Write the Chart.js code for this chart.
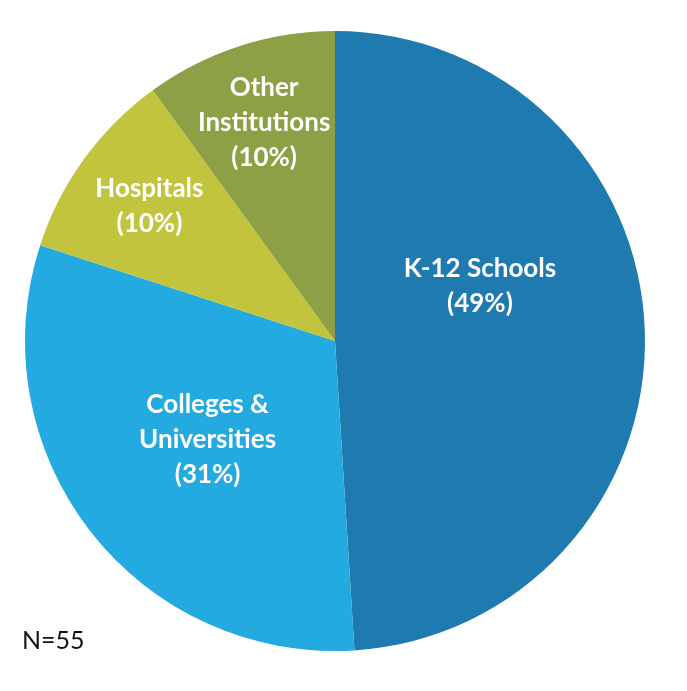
<!DOCTYPE html>
<html><head><meta charset="utf-8">
<script src="https://cdn.jsdelivr.net/npm/chart.js@4"></script>
<style>html,body{margin:0;padding:0;background:#fff}#w{width:687px;height:691px}</style>
</head><body><div id="w"><canvas id="c"></canvas></div>
<script>
const categories = ["K-12 Schools", "Colleges &\nUniversities", "Hospitals", "Other\nInstitutions"];
const values = [49, 31, 10, 10];
const colors = ["#1f7ab0", "#23aae0", "#c3c43d", "#8ea046"];
const labelRadius = [0.5, 0.52, 0.74, 0.74];
const labelNudge = [[-10, -50], [0, 0], [0, 0], [0, 0]];
const note = "N=55";

const labelPlugin = {
  id: 'lbl',
  afterDatasetsDraw(chart) {
    const ctx = chart.ctx;
    const meta = chart.getDatasetMeta(0);
    ctx.save();
    ctx.fillStyle = '#fff';
    ctx.font = 'bold 26px Lato';
    ctx.textAlign = 'center';
    ctx.textBaseline = 'middle';
    meta.data.forEach((arc, i) => {
      const a = (arc.startAngle + arc.endAngle) / 2;
      const r = arc.outerRadius * labelRadius[i];
      const x = arc.x + Math.cos(a) * r + labelNudge[i][0];
      const y = arc.y + Math.sin(a) * r + labelNudge[i][1];
      const lines = categories[i].split('\n').concat(['(' + values[i] + '%)']);
      const lh = 35;
      lines.forEach((t, k) => ctx.fillText(t, x, y + (k - (lines.length - 1) / 2) * lh));
    });
    ctx.fillStyle = '#111';
    ctx.font = '25px Lato';
    ctx.textAlign = 'left';
    ctx.fillText(note, 22, 641);
    ctx.restore();
  }
};

new Chart(document.getElementById('c'), {
  type: 'pie',
  data: { labels: categories, datasets: [{ data: values, backgroundColor: colors, borderWidth: 0 }] },
  options: {
    responsive: true, maintainAspectRatio: false, animation: false,
    layout: { padding: { left: 25, right: 42, top: 31, bottom: 40 } },
    plugins: { legend: { display: false }, tooltip: { enabled: false } }
  },
  plugins: [labelPlugin]
});
</script></body></html>
